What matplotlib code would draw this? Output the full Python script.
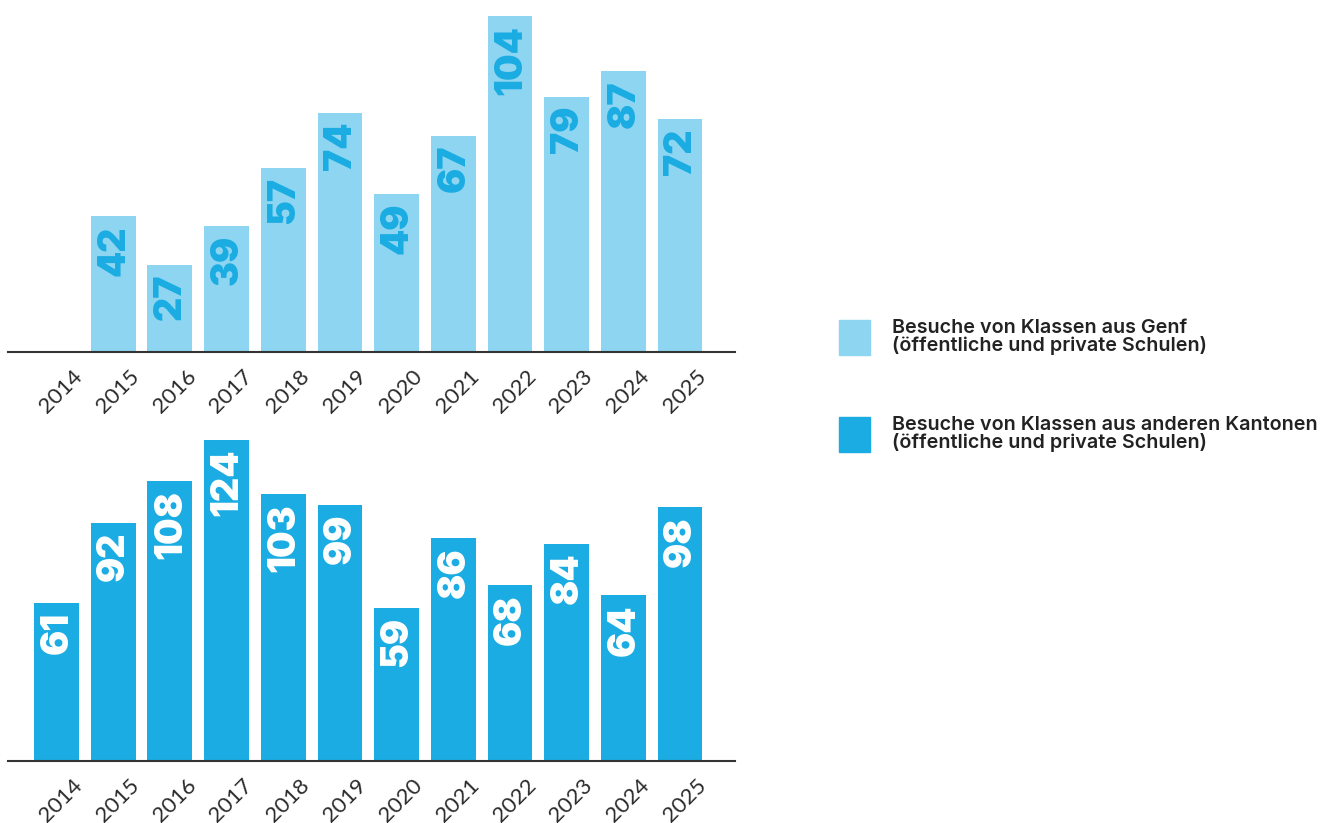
import matplotlib
matplotlib.use("Agg")
import matplotlib.pyplot as plt
from matplotlib.patches import Rectangle

# Daten
jahre = ["2014", "2015", "2016", "2017", "2018", "2019",
         "2020", "2021", "2022", "2023", "2024", "2025"]
genf = [None, 42, 27, 39, 57, 74, 49, 67, 104, 79, 87, 72]
kantone = [61, 92, 108, 124, 103, 99, 59, 86, 68, 84, 64, 98]
legende = ["Besuche von Klassen aus Genf\n(öffentliche und private Schulen)",
           "Besuche von Klassen aus anderen Kantonen\n(öffentliche und private Schulen)"]

hell = "#8DD5F0"
dunkel = "#1AACE2"
text_farbe = "#2b2b2b"

plt.rcParams['font.family'] = ['Inter', 'DejaVu Sans']

fig = plt.figure(figsize=(13.28, 8.23), dpi=100)
W, H = 1328, 823


def achse(y_oben, y_unten, ymax):
    ax = fig.add_axes([8 / W, 1 - y_unten / H, 727 / W, (y_unten - y_oben) / H])
    ax.set_xlim(-0.855, 11.97)
    ax.set_ylim(0, ymax)
    for s in ["top", "right", "left"]:
        ax.spines[s].set_visible(False)
    ax.spines["bottom"].set_color("#333333")
    ax.spines["bottom"].set_linewidth(1.5)
    ax.set_yticks([])
    ax.set_xticks([])
    return ax


def zeichnen(ax, werte, farbe, label_farbe):
    for i, (jahr, v) in enumerate(zip(jahre, werte)):
        if v is not None:
            ax.bar(i, v, width=0.79, color=farbe, zorder=2)
            ax.annotate(str(v), xy=(i, v), xytext=(1, -9), textcoords="offset pixels",
                        rotation=90, ha="center", va="top", color=label_farbe,
                        fontsize=27, fontweight="black", zorder=3)
        ax.annotate(jahr, xy=(i, 0), xytext=(23, -21), textcoords="offset pixels",
                    rotation=45, ha="right", va="center", rotation_mode="anchor",
                    color=text_farbe, fontsize=16, fontweight="normal",
                    family=["Lato", "DejaVu Sans"], annotation_clip=False)


ax1 = achse(16, 352, 104)
zeichnen(ax1, genf, hell, dunkel)

ax2 = achse(440, 761, 124)
zeichnen(ax2, kantone, dunkel, "white")

# Legende
for (y0, farbe, txt) in [(320, hell, legende[0]), (417, dunkel, legende[1])]:
    fig.patches.append(Rectangle((839 / W, 1 - (y0 + 35) / H), 31 / W, 35 / H,
                                 transform=fig.transFigure, color=farbe))
    fig.text(892 / W, 1 - (y0 + 17) / H, txt, ha="left", va="center",
             fontsize=14.2, fontweight="semibold", color="#222222", linespacing=0.95)

fig.savefig("out.png", dpi=100)
